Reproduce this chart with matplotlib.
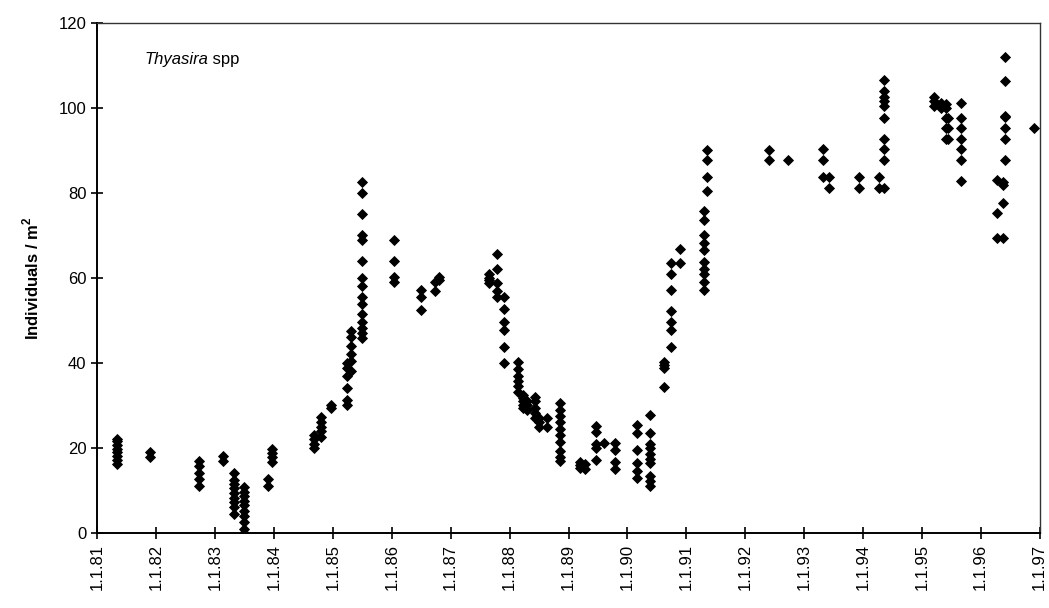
import matplotlib.pyplot as plt

# Sampling dates (decimal years, 81 = 1.1.1981) and the densities found on each date
sample_years = [81.33, 81.89, 82.72, 83.14, 83.32, 83.49, 83.89, 83.96,
                84.68, 84.80, 84.97, 85.23, 85.31, 85.50, 86.04, 86.49,
                86.74, 86.80, 87.65, 87.78, 87.91, 88.15, 88.22, 88.30,
                88.43, 88.50, 88.63, 88.86, 89.20, 89.28, 89.46, 89.60,
                89.79, 90.16, 90.38, 90.62, 90.74, 90.90, 91.30, 91.36,
                92.40, 92.73, 93.32, 93.43, 93.93, 94.28, 94.36, 95.21,
                95.33, 95.41, 95.45, 95.67, 96.28, 96.38, 96.42, 96.90]
sample_values = [
    [16.3, 17.2, 18.1, 19.0, 19.8, 20.7, 21.6, 22.2],
    [17.8, 19.0],
    [11.0, 12.6, 14.2, 15.8, 17.0],
    [17.0, 18.0],
    [4.5, 6.0, 7.2, 8.3, 9.4, 10.5, 11.5, 12.5, 14.0],
    [0.0, 1.0, 2.5, 4.0, 5.2, 6.5, 7.6, 8.6, 9.6, 10.7],
    [11.0, 12.6],
    [16.8, 17.8, 18.8, 19.8],
    [20.0, 21.0, 22.0, 23.0],
    [22.5, 24.0, 25.0, 26.2, 27.3],
    [29.3, 30.2],
    [30.0, 31.2, 34.2, 37.0, 38.7, 40.0],
    [38.0, 40.5, 42.0, 44.0, 46.0, 47.5],
    [45.8, 47.0, 48.2, 49.5, 51.4, 53.8, 55.5, 58.0, 60.0, 64.0, 69.0, 70.0, 75.0, 80.0, 82.5],
    [59.0, 60.2, 64.0, 69.0],
    [52.5, 55.5, 57.2],
    [57.0, 59.0],
    [59.5, 60.2],
    [58.8, 59.5, 60.0, 61.0],
    [55.6, 57.0, 58.8, 62.0, 65.6],
    [40.0, 43.7, 47.7, 49.5, 52.6, 55.6],
    [33.2, 34.5, 35.8, 37.0, 38.5, 40.3],
    [29.5, 30.2, 31.0, 31.8, 32.5],
    [29.0, 30.0, 31.0],
    [27.0, 28.2, 29.5, 31.0, 32.0],
    [25.0, 26.0, 27.0],
    [25.0, 27.0],
    [17.0, 17.8, 19.2, 21.5, 23.0, 24.5, 26.0, 27.5, 29.0, 30.5],
    [15.3, 16.0, 16.8],
    [15.0, 16.2],
    [17.2, 20.0, 21.0, 23.8, 25.2],
    [21.2],
    [15.0, 16.6, 19.6, 21.2],
    [13.0, 14.5, 16.5, 19.5, 23.5, 25.3],
    [11.0, 12.2, 13.5, 16.4, 17.5, 18.5, 20.0, 21.0, 23.6, 27.7],
    [34.3, 38.7, 39.5, 40.3],
    [43.8, 47.7, 49.5, 52.2, 57.1, 61.0, 63.6],
    [63.6, 66.7],
    [57.1, 59.1, 61.0, 62.0, 63.8, 66.5, 68.2, 70.0, 73.6, 75.6],
    [80.5, 83.6, 87.6, 90.0],
    [87.6, 90.0],
    [87.7],
    [83.6, 87.7, 90.2],
    [81.2, 83.6],
    [81.2, 83.6],
    [81.2, 83.6],
    [81.2, 87.7, 90.2, 92.7, 97.7, 100.5, 101.5, 102.5, 104.0, 106.5],
    [100.3, 101.5, 102.6],
    [99.9, 101.0],
    [92.7, 95.2, 97.7, 100.0, 100.8],
    [92.7, 95.2, 97.7],
    [82.8, 87.7, 90.2, 92.7, 95.2, 97.7, 101.2],
    [69.3, 75.3, 83.0],
    [69.3, 77.7, 81.8, 82.5],
    [87.7, 92.7, 95.3, 97.9, 98.0, 106.4, 112.0],
    [95.3],
]

tick_years = list(range(81, 98))
tick_labels = [f'1.1.{y}' for y in tick_years]

plt.rcParams['font.family'] = ['Liberation Sans', 'DejaVu Sans']

# flatten clusters into x / y
xs, ys = [], []
for yr, vals in zip(sample_years, sample_values):
    xs += [yr] * len(vals)
    ys += vals

fig = plt.figure(figsize=(10.49, 6.08), dpi=100)
ax = fig.add_axes([0.0929, 0.1234, 0.8981, 0.8393])

ax.plot(xs, ys, linestyle='none', marker='D', markersize=4.8,
        color='black', markeredgewidth=0.6)

ax.set_xlim(81, 97)
ax.set_ylim(0, 120)
ax.set_xticks(tick_years)
ax.set_xticklabels(tick_labels, rotation=90, fontsize=12)
ax.set_yticks(range(0, 121, 20))
ax.tick_params(axis='y', labelsize=12, direction='inout', length=9, width=1.2)
ax.tick_params(axis='x', direction='inout', length=9, width=1.2)

for side in ['left', 'bottom']:
    ax.spines[side].set_linewidth(1.4)
for side in ['top', 'right']:
    ax.spines[side].set_linewidth(1.0)
    ax.spines[side].set_color('#333333')

ax.set_ylabel('Individuals / m$^\\mathregular{2}$', fontsize=12, fontweight='bold', labelpad=12)

# species name in italics, "spp" upright just after it
t1 = ax.text(0.05, 0.927, 'Thyasira', style='italic', fontsize=12,
             transform=ax.transAxes, va='center')
ax.annotate(' spp', xy=(1, 0.5), xycoords=t1, va='center', fontsize=12)

plt.savefig('out.png', dpi=100)
